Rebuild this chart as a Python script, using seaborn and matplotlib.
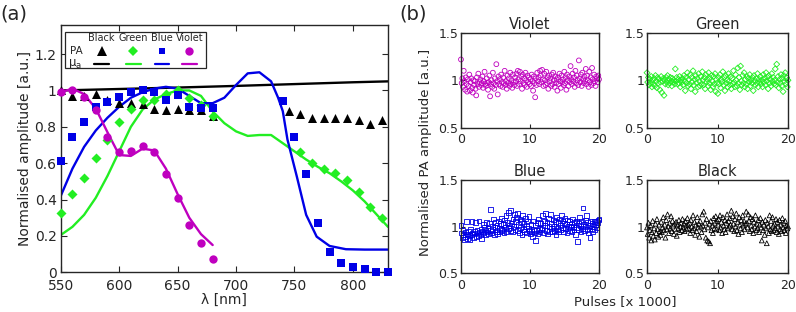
import numpy as np
import pandas as pd
import matplotlib
matplotlib.use('Agg')
import matplotlib.pyplot as plt
import seaborn as sns

# ======= panel (a) data: spectra
wl_pa_black = [550, 560, 570, 580, 590, 600, 610, 620, 630, 640, 650, 660, 670, 680,
               745, 755, 765, 775, 785, 795, 805, 815, 825]
pa_black = [1.0, 0.97, 0.97, 0.98, 0.95, 0.93, 0.93, 0.925, 0.90, 0.89, 0.90, 0.89, 0.89, 0.86,
            0.885, 0.87, 0.85, 0.85, 0.85, 0.85, 0.835, 0.815, 0.835]
wl_pa_green = [550, 560, 570, 580, 590, 600, 610, 620, 630, 640, 650, 660, 670, 680,
               755, 765, 775, 785, 795, 805, 815, 825]
pa_green = [0.325, 0.43, 0.52, 0.63, 0.73, 0.825, 0.90, 0.95, 0.95, 0.98, 1.005, 0.96, 0.92, 0.86,
            0.66, 0.60, 0.57, 0.545, 0.505, 0.44, 0.36, 0.30]
wl_pa_blue = [550, 560, 570, 580, 590, 600, 610, 620, 630, 640, 650, 660, 670, 680,
              740, 750, 760, 770, 780, 790, 800, 810, 820, 830]
pa_blue = [0.61, 0.745, 0.825, 0.91, 0.935, 0.965, 0.99, 1.0, 0.99, 0.95, 0.975, 0.91, 0.905, 0.905,
           0.94, 0.745, 0.54, 0.27, 0.114, 0.053, 0.031, 0.017, 0.003, 0.003]
wl_pa_violet = [550, 560, 570, 580, 590, 600, 610, 620, 630, 640, 650, 660, 670, 680]
pa_violet = [0.99, 1.0, 0.965, 0.89, 0.745, 0.662, 0.665, 0.693, 0.662, 0.54, 0.41, 0.26, 0.16, 0.073]

wl_mu_black = [550, 600, 650, 700, 750, 800, 830]
mu_black = [1.0, 1.008, 1.016, 1.025, 1.035, 1.045, 1.05]
wl_mu_green = [550, 560, 570, 580, 590, 600, 610, 620, 630, 640, 650, 660, 670, 680, 690, 700,
               710, 720, 730, 740, 750, 760, 770, 780, 790, 800, 810, 820, 830]
mu_green = [0.205, 0.25, 0.316, 0.41, 0.53, 0.665, 0.80, 0.895, 0.95, 0.98, 1.0, 1.0, 0.97, 0.885, 0.82, 0.775,
            0.75, 0.755, 0.755, 0.71, 0.665, 0.62, 0.58, 0.545, 0.50, 0.45, 0.39, 0.32, 0.25]
wl_mu_blue = [550, 560, 570, 580, 590, 600, 610, 620, 630, 640, 650, 660, 670, 680, 690, 700,
              710, 720, 730, 736, 740, 744, 752, 760, 769, 780, 794, 810, 830]
mu_blue = [0.42, 0.57, 0.69, 0.78, 0.85, 0.91, 0.96, 0.99, 1.01, 1.02, 1.01, 0.97, 0.93, 0.93, 0.96, 1.03,
           1.094, 1.10, 1.05, 0.96, 0.886, 0.73, 0.527, 0.316, 0.196, 0.145, 0.127, 0.125, 0.125]
wl_mu_violet = [550, 560, 570, 580, 590, 600, 610, 620, 630, 640, 650, 660, 670, 680]
mu_violet = [0.99, 1.01, 0.98, 0.90, 0.77, 0.645, 0.64, 0.68, 0.67, 0.57, 0.43, 0.30, 0.21, 0.15]

# ======= panel (b) data: PA stability over pulses
violet_amp = [1.22, 0.97, 1.02, 0.93, 1.10, 0.99, 0.90, 1.03, 0.96, 0.88, 1.01, 0.94, 1.06, 0.89, 0.98, 1.02, 0.92, 0.87, 1.00, 0.95,
              0.99, 0.91, 0.84, 1.03, 0.96, 1.07, 0.93, 0.98, 1.01, 0.95, 0.97, 1.04, 0.92, 0.99, 1.09, 0.96, 0.94, 1.02, 0.97, 0.90,
              0.98, 1.05, 0.83, 0.96, 1.00, 0.93, 1.08, 0.97, 0.91, 1.02, 0.95, 1.17, 0.99, 0.85, 1.04, 0.96, 1.01, 0.94, 1.06, 0.98,
              0.93, 1.03, 0.97, 1.10, 0.95, 0.99, 0.91, 1.05, 0.97, 1.02, 0.94, 1.08, 0.96, 1.00, 0.92, 1.06, 0.98, 0.95, 1.03, 0.99,
              1.07, 0.94, 1.10, 1.01, 0.96, 1.09, 0.99, 1.04, 0.91, 1.06, 0.97, 1.02, 0.95, 1.08, 1.00, 0.93, 1.05, 0.98, 1.03, 0.96,
              1.01, 0.94, 1.06, 0.99, 0.89, 1.04, 0.97, 0.82, 1.02, 0.95, 1.08, 0.99, 1.03, 0.96, 1.10, 1.05, 0.98, 1.11, 1.01, 0.94,
              1.07, 1.00, 0.95, 1.09, 0.97, 1.03, 0.91, 1.05, 0.99, 1.02, 0.94, 1.06, 0.96, 1.08, 1.00, 0.93, 1.04, 0.97, 1.01, 0.89,
              1.03, 0.96, 1.07, 0.99, 0.92, 1.05, 0.98, 1.01, 0.95, 1.09, 0.97, 1.03, 0.90, 1.06, 1.00, 0.94, 1.04, 0.98, 1.15, 1.01,
              0.96, 1.07, 0.99, 1.03, 0.93, 1.10, 0.97, 1.05, 1.00, 0.95, 1.21, 1.02, 0.98, 1.06, 0.94, 1.08, 1.01, 0.97, 1.04, 0.99,
              1.12, 0.96, 1.05, 1.00, 0.93, 1.09, 0.98, 1.03, 0.95, 1.13, 1.01, 0.97, 1.06, 0.99, 0.94, 1.04, 1.02, 0.98, 1.05, 1.01]
green_amp = [1.08, 0.98, 1.03, 0.95, 1.01, 0.97, 1.04, 0.93, 1.00, 0.96, 1.02, 0.94, 1.05, 0.99, 0.92, 1.03, 0.97, 1.01, 0.90, 0.98,
             1.04, 0.87, 0.99, 1.02, 0.84, 1.00, 0.96, 1.03, 0.98, 1.05, 0.95, 1.01, 0.97, 1.03, 0.99, 0.94, 1.02, 0.98, 1.00, 0.96,
             1.12, 0.99, 1.03, 0.96, 1.01, 0.97, 1.04, 0.93, 1.00, 0.98, 1.02, 0.95, 1.05, 0.99, 0.89, 1.03, 0.97, 1.08, 0.94, 1.01,
             0.96, 1.06, 0.91, 1.03, 0.98, 1.10, 0.95, 1.01, 0.88, 1.05, 0.97, 1.02, 0.93, 1.07, 0.99, 0.94, 1.04, 0.96, 1.09, 1.00,
             0.95, 1.03, 0.91, 1.06, 0.98, 1.01, 0.94, 1.08, 0.97, 1.02, 0.90, 1.05, 0.99, 0.93, 1.04, 0.96, 1.07, 0.88, 1.01, 0.97,
             0.86, 1.03, 0.96, 1.06, 0.92, 1.01, 0.98, 1.09, 0.95, 1.03, 0.89, 1.05, 0.97, 1.00, 0.93, 1.07, 0.99, 0.95, 1.04, 0.91,
             1.02, 0.96, 1.10, 0.98, 0.93, 1.06, 1.00, 0.94, 1.13, 0.97, 1.03, 0.90, 1.15, 0.99, 0.95, 1.05, 0.97, 1.08, 0.93, 1.01,
             0.96, 1.04, 0.91, 1.02, 0.98, 1.06, 0.94, 1.00, 0.97, 1.03, 0.89, 1.05, 0.99, 0.95, 1.02, 0.97, 1.07, 0.93, 1.01, 0.98,
             1.04, 0.96, 1.00, 0.93, 1.06, 0.98, 1.02, 0.95, 1.08, 0.99, 1.03, 0.91, 1.05, 0.97, 1.01, 0.94, 1.07, 0.99, 1.03, 0.96,
             1.00, 1.12, 0.95, 1.17, 0.98, 1.04, 0.92, 1.01, 0.97, 1.06, 0.94, 1.02, 0.88, 1.05, 0.99, 1.08, 0.96, 1.03, 0.93, 1.00]
blue_amp = [1.01, 0.93, 0.88, 0.96, 0.91, 0.86, 0.94, 0.89, 1.05, 0.92, 0.87, 0.95, 0.90, 0.86, 0.97, 0.91, 1.05, 0.93, 0.88, 0.95,
            0.92, 1.04, 0.89, 0.96, 0.93, 0.90, 1.06, 0.94, 0.91, 0.97, 0.87, 0.95, 1.02, 0.93, 0.99, 0.91, 0.96, 1.04, 0.94, 0.98,
            0.92, 1.03, 0.96, 1.18, 0.93, 1.00, 0.97, 1.08, 0.91, 0.99, 1.04, 0.95, 1.01, 0.92, 1.06, 0.98, 0.94, 1.03, 0.97, 1.09,
            0.96, 1.02, 0.93, 1.07, 0.99, 1.12, 0.95, 1.04, 0.98, 1.15, 1.01, 0.96, 1.17, 1.03, 0.94, 1.08, 1.00, 1.13, 0.97, 1.05,
            1.10, 0.96, 1.14, 1.02, 0.93, 1.08, 0.99, 1.05, 0.91, 1.12, 0.97, 1.03, 0.95, 1.09, 1.00, 0.93, 1.06, 0.98, 1.11, 0.96,
            0.92, 1.02, 0.95, 0.89, 1.06, 0.97, 0.93, 0.85, 1.01, 0.96, 1.04, 0.92, 1.08, 0.98, 0.94, 1.03, 0.97, 1.12, 0.99, 0.93,
            1.06, 1.01, 1.14, 0.96, 1.04, 0.92, 1.09, 1.00, 0.95, 1.13, 0.98, 1.03, 0.94, 1.07, 1.00, 0.96, 1.05, 0.91, 1.10, 0.98,
            1.04, 0.95, 1.08, 1.01, 0.97, 1.12, 0.99, 1.06, 0.94, 1.03, 1.09, 0.98, 1.02, 0.93, 1.07, 1.00, 0.96, 1.05, 0.99, 1.02,
            0.95, 1.08, 1.00, 0.97, 1.04, 0.91, 1.06, 0.99, 0.84, 1.03, 0.97, 1.10, 1.01, 0.95, 1.05, 0.98, 1.20, 1.02, 0.96, 1.07,
            1.00, 1.12, 0.97, 1.04, 0.93, 1.01, 0.88, 1.06, 0.98, 1.03, 0.95, 1.00, 1.05, 0.97, 1.02, 1.06, 0.99, 1.04, 1.07, 1.08]
black_amp = [0.99, 0.92, 1.04, 0.88, 0.96, 1.01, 0.85, 0.94, 1.06, 0.90, 0.98, 0.86, 1.03, 0.93, 1.08, 0.97, 0.89, 1.02, 0.95, 0.91,
             1.05, 0.94, 0.99, 1.10, 0.96, 1.02, 0.88, 1.07, 0.97, 1.13, 1.00, 0.93, 1.04, 0.98, 1.11, 0.95, 1.06, 1.01, 0.92, 1.03,
             0.97, 1.05, 0.90, 1.02, 0.98, 1.07, 0.94, 1.00, 1.04, 0.96, 1.08, 0.99, 1.03, 0.95, 1.06, 1.01, 0.97, 1.09, 1.02, 0.98,
             1.04, 0.93, 1.07, 1.00, 0.96, 1.12, 0.98, 1.05, 0.91, 1.02, 0.95, 1.10, 0.99, 1.03, 0.89, 1.06, 1.00, 0.94, 1.13, 1.01,
             1.16, 0.97, 1.04, 0.88, 1.08, 0.85, 0.99, 0.84, 1.03, 0.82, 1.06, 0.96, 1.01, 0.93, 1.09, 0.98, 1.04, 1.11, 0.97, 1.06,
             1.02, 1.08, 0.96, 1.12, 0.99, 1.05, 0.93, 1.10, 1.01, 0.97, 1.07, 0.94, 1.04, 1.13, 0.98, 1.06, 1.00, 1.09, 1.02, 1.17,
             0.97, 1.11, 1.03, 0.95, 1.08, 1.00, 1.14, 0.96, 1.05, 0.92, 1.10, 1.02, 0.98, 1.07, 0.94, 1.12, 1.01, 1.06, 0.97, 1.03,
             1.16, 1.04, 0.99, 1.13, 1.06, 0.95, 1.10, 1.01, 0.97, 1.08, 0.93, 1.05, 1.00, 1.12, 0.96, 1.03, 0.98, 1.07, 0.94, 1.02,
             1.09, 0.99, 0.85, 1.05, 0.96, 1.02, 0.91, 1.07, 0.98, 0.82, 1.04, 1.00, 0.93, 1.12, 0.97, 1.06, 0.95, 1.10, 1.01, 0.96,
             1.03, 0.98, 1.08, 0.94, 1.05, 1.00, 0.92, 1.07, 0.97, 1.02, 0.95, 1.09, 0.99, 1.04, 0.96, 1.06, 0.93, 1.01, 0.98, 1.00]
pulses = np.linspace(0, 20, len(violet_amp))

c_black = '#000000'
c_green = '#22ee22'
c_blue = '#0000e6'
c_violet = '#bf00bf'
frame = '#262626'

sns.set_theme(style='ticks')
plt.rcParams['font.family'] = ['DejaVu Sans']
plt.rcParams['xtick.direction'] = 'in'
plt.rcParams['ytick.direction'] = 'in'
plt.rcParams['xtick.top'] = True
plt.rcParams['ytick.right'] = True
plt.rcParams['axes.edgecolor'] = frame
plt.rcParams['axes.linewidth'] = 1.0
plt.rcParams['xtick.color'] = frame
plt.rcParams['ytick.color'] = frame
plt.rcParams['text.color'] = '#262626'

fig = plt.figure(figsize=(7.96, 3.12), dpi=100)

# ======= (a)
ax = fig.add_axes([0.0763, 0.1272, 0.4111, 0.7927])
lines = [(wl_mu_black, mu_black, c_black), (wl_mu_green, mu_green, c_green),
         (wl_mu_blue, mu_blue, c_blue), (wl_mu_violet, mu_violet, c_violet)]
for wx, wy, col in lines:
    sns.lineplot(x=wx, y=wy, color=col, linewidth=1.7, sort=False, ax=ax)
pts = [(wl_pa_black, pa_black, c_black, '^', 42), (wl_pa_green, pa_green, c_green, 'D', 26),
       (wl_pa_blue, pa_blue, c_blue, 's', 26), (wl_pa_violet, pa_violet, c_violet, 'o', 36)]
for wx, wy, col, mk, sz in pts:
    sns.scatterplot(x=wx, y=wy, color=col, marker=mk, s=sz, linewidth=0, ax=ax,
                    zorder=3, clip_on=False)
ax.set_xlim(550, 830)
ax.set_ylim(0, 1.36)
ax.set_xticks([550, 600, 650, 700, 750, 800])
ax.set_yticks([0, 0.2, 0.4, 0.6, 0.8, 1.0, 1.2])
ax.set_yticklabels(['0', '0.2', '0.4', '0.6', '0.8', '1', '1.2'])
ax.tick_params(labelsize=10, length=4, width=0.8, pad=3)
ax.tick_params(axis='x', pad=5)
ax.set_xlabel('λ [nm]', fontsize=10, labelpad=0)
ax.set_ylabel('Normalised amplitude [a.u.]', fontsize=10, labelpad=2)

# legend table (drawn in axes fraction)
tr = ax.transAxes
ax.add_patch(plt.Rectangle((0.013, 0.825), 0.431, 0.148, transform=tr, fill=True,
                           facecolor='white', edgecolor=frame, linewidth=0.9, zorder=5))
names = ['Black', 'Green', 'Blue', 'Violet']
cols = [c_black, c_green, c_blue, c_violet]
marks = [('^', 7), ('D', 5), ('s', 5), ('o', 6)]
xc = [0.125, 0.222, 0.309, 0.393]
for n, col, (mk, ms), x0 in zip(names, cols, marks, xc):
    ax.text(x0, 0.946, n, transform=tr, ha='center', va='center', fontsize=7, zorder=6)
    ax.plot([x0], [0.895], marker=mk, color=col, markersize=ms, markeredgewidth=0,
            transform=tr, zorder=6, clip_on=False)
    ax.plot([x0 - 0.022, x0 + 0.022], [0.844, 0.844], color=col, linewidth=1.6,
            transform=tr, zorder=6, clip_on=False)
ax.text(0.049, 0.895, 'PA', transform=tr, ha='center', va='center', fontsize=7.5, zorder=6)
ax.text(0.045, 0.842, r'$\mathregular{\mu_a}$', transform=tr, ha='center', va='center', fontsize=8.5, zorder=6)

fig.text(0.0, 0.955, '(a)', fontsize=14, ha='left', va='center')
fig.text(0.502, 0.955, '(b)', fontsize=14, ha='left', va='center')

# ======= (b)
stab = [('Violet', violet_amp, c_violet, 'o', [0.5791, 0.5913, 0.1734, 0.3029]),
        ('Green', green_amp, c_green, 'D', [0.8128, 0.5913, 0.1772, 0.3029]),
        ('Blue', blue_amp, c_blue, 's', [0.5791, 0.1250, 0.1734, 0.2980]),
        ('Black', black_amp, c_black, '^', [0.8128, 0.1250, 0.1772, 0.2980])]
for title, amp, col, mk, pos in stab:
    bx = fig.add_axes(pos)
    df = pd.DataFrame({'pulses': pulses, 'amp': amp})
    sz = 12 if mk != 'D' else 9
    sns.scatterplot(data=df, x='pulses', y='amp', marker=mk, s=sz, facecolor='none',
                    edgecolor=col, linewidth=0.6, ax=bx, clip_on=False)
    bx.set_xlim(0, 20)
    bx.set_ylim(0.5, 1.5)
    bx.set_xticks([0, 10, 20])
    bx.set_yticks([0.5, 1.0, 1.5])
    bx.set_yticklabels(['0.5', '1', '1.5'])
    bx.tick_params(labelsize=9, length=3, width=0.8, pad=2)
    bx.tick_params(axis='x', pad=4)
    bx.set_xlabel('')
    bx.set_ylabel('')
    bx.set_title(title, fontsize=10.5, pad=3)

fig.text(0.534, 0.51, 'Normalised PA amplitude [a.u.]', rotation=90, fontsize=9.5,
         ha='center', va='center')
fig.text(0.785, 0.035, 'Pulses [x 1000]', fontsize=9.5, ha='center', va='center')

plt.savefig('out.png', dpi=100)
plt.close()
